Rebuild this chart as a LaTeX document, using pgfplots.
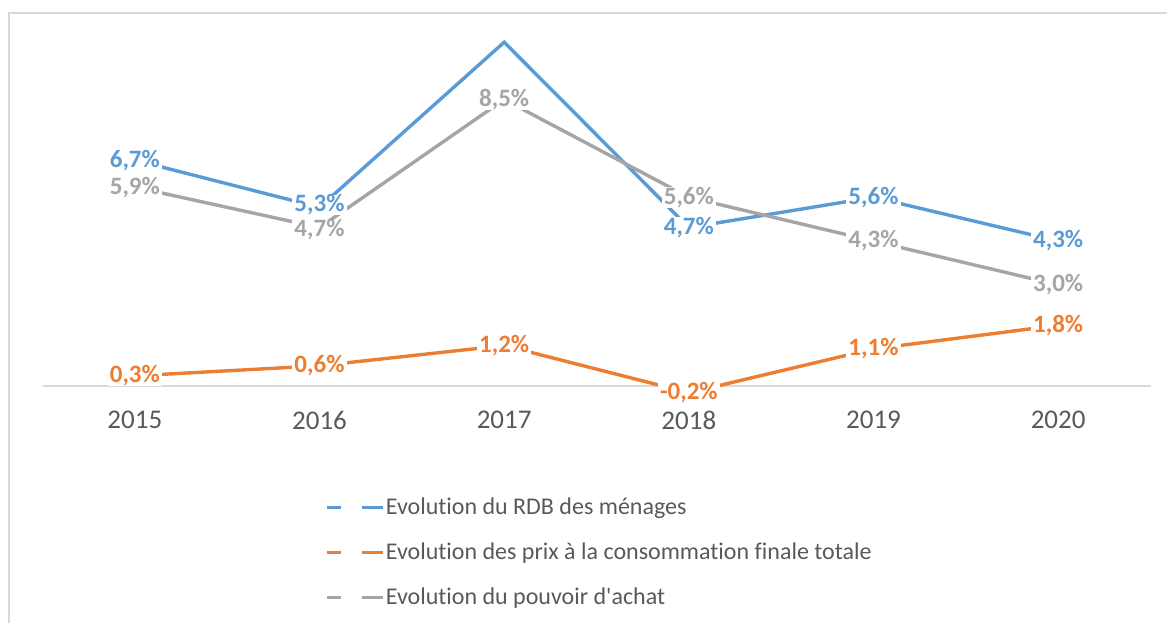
\documentclass[border=0pt]{standalone}
\usepackage{fontspec}
\setmainfont{Carlito}[Ligatures={TeX,NoCommon}]
\usepackage{pgfplots}
\pgfplotsset{compat=1.18}
\definecolor{cblue}{HTML}{5B9BD5}
\definecolor{corange}{HTML}{ED7D31}
\definecolor{cgray}{HTML}{A5A5A5}
\definecolor{ctext}{HTML}{595959}
\definecolor{cline}{HTML}{D9D9D9}
\begin{document}
\begin{tikzpicture}
\path[use as bounding box] (-21.25pt,-101.5pt) rectangle (562.25pt,210pt);
\draw[cline, line width=0.8pt] (-16.75pt,-101.5pt) -- (-16.75pt,203.5pt) -- (562.25pt,203.5pt);
\begin{axis}[
  at={(0pt,0pt)}, anchor=south west,
  x=92.333pt, y=16.85pt,
  xmin=-0.5, xmax=5.5, ymin=-1.01, ymax=10.6,
  clip=false,
  axis line style={draw=none},
  ytick=\empty,
  xtick={0,1,2,3,4,5},
  xticklabels={2015,2016,2017,2018,2019,2020},
  major tick length=0pt,
  xticklabel style={anchor=center, font=\fontsize{13.5}{15}\selectfont, text=ctext},
  extra y ticks={0},
  extra y tick labels={},
  extra y tick style={grid=major, major grid style={draw=cline, line width=0.9pt}},
  legend style={draw=none, fill=none, at={(axis description cs:0.255,-0.1649)}, anchor=north west,
    font=\fontsize{12}{14}\selectfont, text=ctext, legend columns=1,
    column sep=0.5pt, inner sep=0pt,
    nodes={minimum height=22.5pt, inner sep=0pt}, cells={anchor=west}},
  legend image code/.code={
    \draw[#1] (0pt,0pt) -- (7pt,0pt);
    \draw[#1] (17.5pt,0pt) -- (28pt,0pt);
  },
  every node near coord/.append style={font=\bfseries\fontsize{12.5}{14}\selectfont, fill=white, inner xsep=1pt, inner ysep=0pt, anchor=center},
]
\addplot[cblue, line width=1.7pt] coordinates {(0,6.7) (1,5.3) (2,10.2) (3,4.7) (4,5.6) (5,4.3)};
\addlegendentry{Evolution du RDB des ménages}
\addplot[corange, line width=1.7pt] coordinates {(0,0.3) (1,0.6) (2,1.2) (3,-0.2) (4,1.1) (5,1.8)};
\addlegendentry{Evolution des prix à la consommation finale totale}
\addplot[cgray, line width=1.7pt] coordinates {(0,5.9) (1,4.7) (2,8.5) (3,5.6) (4,4.3) (5,3.0)};
\addlegendentry{Evolution du pouvoir d\textquotesingle achat}
% data labels (drawn on top of all lines)
\addplot[forget plot, draw=none, mark=none, point meta=explicit symbolic, nodes near coords, every node near coord/.append style={text=cblue}]
  coordinates {(0,6.7) [6,7\%] (3,4.7) [4,7\%] (4,5.6) [5,6\%] (5,4.3) [4,3\%]};
\addplot[forget plot, draw=none, mark=none, point meta=explicit symbolic, nodes near coords, every node near coord/.append style={text=cblue, yshift=1.2pt}]
  coordinates {(1,5.3) [5,3\%]};
\addplot[forget plot, draw=none, mark=none, point meta=explicit symbolic, nodes near coords, every node near coord/.append style={text=corange}]
  coordinates {(0,0.3) [0,3\%] (1,0.6) [0,6\%] (2,1.2) [1,2\%] (3,-0.2) [-0,2\%] (4,1.1) [1,1\%] (5,1.8) [1,8\%]};
\addplot[forget plot, draw=none, mark=none, point meta=explicit symbolic, nodes near coords, every node near coord/.append style={text=cgray}]
  coordinates {(0,5.9) [5,9\%] (2,8.5) [8,5\%] (3,5.6) [5,6\%] (4,4.3) [4,3\%] (5,3.0) [3,0\%]};
\addplot[forget plot, draw=none, mark=none, point meta=explicit symbolic, nodes near coords, every node near coord/.append style={text=cgray, yshift=-1.2pt}]
  coordinates {(1,4.7) [4,7\%]};
\end{axis}
\end{tikzpicture}
\end{document}
